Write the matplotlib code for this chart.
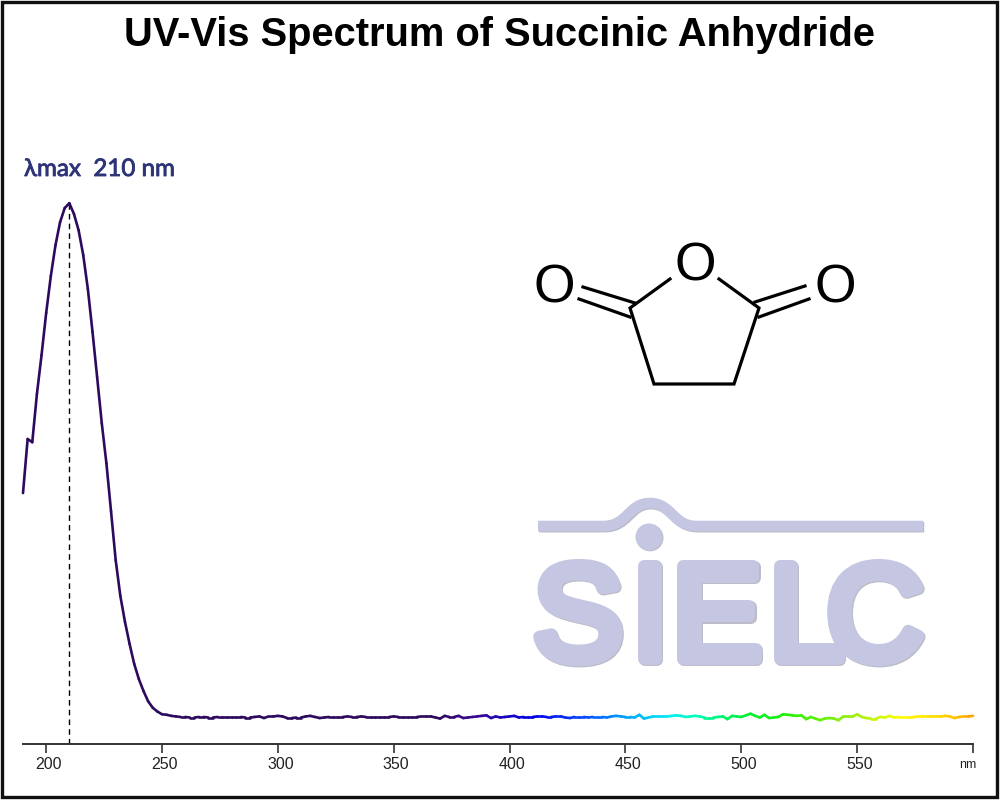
import numpy as np
import matplotlib
matplotlib.use("Agg")
import matplotlib.pyplot as plt
import matplotlib.patheffects as pe
from matplotlib.collections import LineCollection
from matplotlib.colors import LinearSegmentedColormap
from matplotlib.path import Path
from matplotlib.patches import PathPatch, Circle, Rectangle
from matplotlib.transforms import ScaledTranslation

# absorbance, 2 nm steps, peak scaled to 1
peak_band = [0.464, 0.564, 0.558, 0.647, 0.719, 0.797, 0.865, 0.922, 0.965, 0.991,
             1.000, 0.980, 0.950, 0.904, 0.841, 0.762, 0.678, 0.593, 0.519, 0.430,
             0.340, 0.274, 0.226, 0.185, 0.148, 0.120, 0.098, 0.079, 0.067, 0.060,
             0.055, 0.054, 0.052]
baseline = [.051, .050, .050, .049, .049, .050, .050, .049, .049, .050, .050, .050,
            .050, .050, .050, .049, .049, .050, .051, .048, .051, .051, .052,
            .051, .048, .048, .049, .049, .051, .052, .050, .048, .049, .050, .050, .050,
            .050, .051, .050, .050, .051, .050, .050, .050, .050, .050, .050, .051,
            .050, .050, .050, .050, .050, .051, .051, .051, .049, .047, .052, .050, .050,
            .052, .048, .049, .050, .051, .052, .053, .048, .051, .049, .050, .051,
            .052, .049, .050, .050, .050, .051, .051, .050, .050, .051, .051, .049, .048,
            .050, .050, .050, .049, .050, .050, .050, .049, .051, .052, .051, .050,
            .050, .049, .054, .047, .049, .051, .051, .051, .051, .052, .053, .052, .050,
            .051, .052, .051, .049, .049, .049, .050, .051, .046, .052, .051, .050,
            .053, .056, .052, .049, .054, .048, .049, .050, .055, .054,
            .053, .052, .053, .046, .050, .047, .044, .047, .048, .047, .044, .051, .051,
            .051, .055,
            .050, .048, .047, .047, .050, .049, .052, .049, .050, .050, .050, .050,
            .051, .051, .051, .051, .051, .051, .052, .051, .048, .050, .051, .051, .052]
absorbance = np.array(peak_band + baseline)
wavelength = 190 + 2 * np.arange(len(absorbance))

tick_pos = [200, 250, 300, 350, 400, 450, 500, 550, 600]
tick_labels = ['200', '250', '300', '350', '400', '450', '500', '550', 'nm']
lambda_max = 210

# line colour follows the wavelength
spec_nm = [190, 370, 385, 410, 430, 450, 470, 482, 500, 520, 550, 570, 590, 600]
spec_col = ['#2e0a5e', '#2e0a5e', '#3a0a90', '#0000e6', '#0a40ff', '#00a0ff', '#00f0f0',
            '#00ffb0', '#00f040', '#20f000', '#a0f010', '#ffff00', '#ffd000', '#ffa500']

plt.rcParams['font.family'] = ['Liberation Sans', 'DejaVu Sans']
fig = plt.figure(figsize=(10, 8), dpi=100)

# axis: 190 nm at x=23 px, 600 nm at x=973 px, zero at y=744 px, peak at y=203 px
ax = fig.add_axes([0.023, 0.07, 0.950, 0.676])
ax.set_xlim(190, 600)
ax.set_ylim(0, 1)
ax.patch.set_alpha(0)
for side in ['top', 'left', 'right']:
    ax.spines[side].set_visible(False)
ax.spines['bottom'].set_linewidth(1.4)
ax.spines['bottom'].set_color('#333333')
ax.set_yticks([])
ax.set_xticks(tick_pos)
ax.set_xticklabels(tick_labels, fontsize=11.5, color='#222222')
ax.tick_params(axis='x', length=6.5, width=1.2, color='#333333', pad=3)
shift = ScaledTranslation(2.5 / 100, 0, fig.dpi_scale_trans)
for lab in ax.get_xticklabels():
    lab.set_transform(lab.get_transform() + shift)
nm_lab = ax.get_xticklabels()[-1]
nm_lab.set_fontsize(9)
nm_lab.set_transform(nm_lab.get_transform() + ScaledTranslation(-8 / 100, -2 / 100, fig.dpi_scale_trans))

ax.vlines(lambda_max, 0, absorbance[wavelength == lambda_max][0], color='black',
          lw=1.0, linestyles=(0, (4, 3)))

norm_nm = [(n - spec_nm[0]) / (spec_nm[-1] - spec_nm[0]) for n in spec_nm]
cmap = LinearSegmentedColormap.from_list('spec', list(zip(norm_nm, spec_col)))
pts = np.column_stack([wavelength, absorbance])
segs = np.stack([pts[:-1], pts[1:]], axis=1)
mid = (wavelength[:-1] + wavelength[1:]) / 2
lc = LineCollection(segs, colors=cmap((mid - 190) / 410), linewidths=1.9, capstyle='round')
lc.set_clip_on(False)
ax.add_collection(lc)

# everything that is not data sits on a pixel-sized overlay
ov = fig.add_axes([0, 0, 1, 1])
ov.set_xlim(0, 1000)
ov.set_ylim(800, 0)
ov.axis('off')
ov.patch.set_alpha(0)

ov.add_patch(Rectangle((1.5, 1.5), 995.5, 795.5, fill=False, ec='#111111', lw=2.4))
ov.plot([997, 997], [3, 797], color='#111111', lw=1.5)

ov.text(500, 34.5, 'UV-Vis Spectrum of Succinic Anhydride', ha='center', va='center',
        fontsize=28.7, fontweight='bold', color='black')
lam = ov.text(24, 176, 'λmax  210 nm', ha='left', va='baseline', fontsize=17.4,
              color='#2e3478', family=['Lato', 'DejaVu Sans'])
lam.set_path_effects([pe.withStroke(linewidth=0.6, foreground='#2e3478')])

# succinic anhydride structure
bond_lw = 2.3
ring_x = [670, 630, 654, 734, 759, 719]
ring_y = [279, 308, 384, 384, 308, 279]
ov.plot(ring_x, ring_y, color='black', lw=bond_lw, solid_joinstyle='miter')
for bx, by in [([583, 635], [287, 303]), ([579, 630], [299, 317]),
               ([805, 755], [286, 302]), ([809, 759], [299, 317])]:
    ov.plot(bx, by, color='black', lw=bond_lw)
for ox, oy in [(554, 283), (695, 261), (835, 283)]:
    ov.text(ox, oy, 'O', ha='center', va='center_baseline', fontsize=38.5, color='black')

# SIELC logo
logo_col = '#c5c6e2'
logo_shadow = '#bcbcc8'
sw_verts = [(538, 526), (603, 526), (628, 526), (628, 503), (650, 503),
            (672, 503), (672, 526), (697, 526), (923, 526)]
sw_codes = [Path.MOVETO, Path.LINETO, Path.CURVE4, Path.CURVE4, Path.CURVE4,
            Path.CURVE4, Path.CURVE4, Path.CURVE4, Path.LINETO]
sw_shadow = [(x + 1.2, y + 1.2) for x, y in sw_verts]
ov.add_patch(PathPatch(Path(sw_shadow, sw_codes), fill=False, ec=logo_shadow, lw=7.6, capstyle='butt'))
ov.add_patch(PathPatch(Path(sw_verts, sw_codes), fill=False, ec=logo_col, lw=7.6, capstyle='butt'))
ov.add_patch(Circle((650, 537.8), 13.5, fc=logo_shadow, ec='none'))
ov.add_patch(Circle((649, 537), 13.5, fc=logo_col, ec='none'))

logo_effects = [
    pe.Stroke(linewidth=8.6, foreground=logo_shadow, offset=(0.8, -0.8), joinstyle='round', capstyle='round'),
    pe.Stroke(linewidth=8.6, foreground=logo_col, joinstyle='round', capstyle='round'),
    pe.Normal(),
]
for letter, lx in zip('SIELC', [578, 650, 717, 806, 875]):
    t = ov.text(lx, 659, letter, ha='center', va='baseline', fontsize=97, color=logo_col)
    t.set_path_effects(logo_effects)

fig.savefig('out.png', dpi=100, facecolor='white')
